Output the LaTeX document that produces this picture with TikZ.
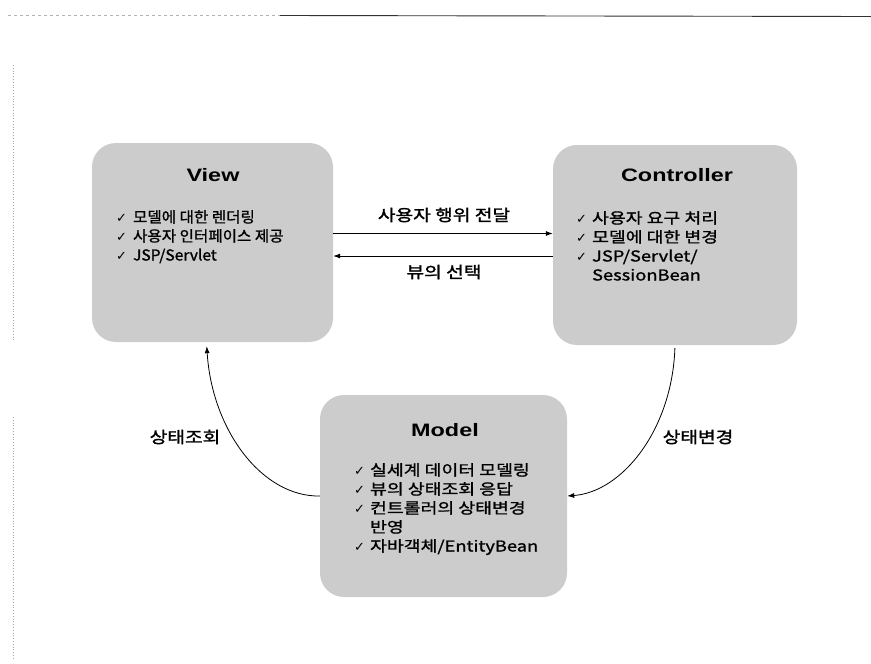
\documentclass[tikz,border=0pt]{standalone}
\usepackage{fontspec}
\setmainfont{Liberation Sans}
\newfontfamily\krv{Noto Sans CJK KR}[FakeBold=1.2, FakeStretch=1.04]
\newfontfamily\kr{Noto Sans CJK KR}[FakeBold=1.2, FakeStretch=1.22]
\newfontfamily\krb{Noto Sans CJK KR}[FakeBold=1.6, FakeStretch=1.2]
\newfontfamily\sym{DejaVu Sans}
\newfontfamily\ttlfont{Liberation Sans Bold}[FakeStretch=1.3]
\usetikzlibrary{arrows.meta}
\tikzset{
  panel/.style={fill=gray!40, rounded corners=24pt, inner sep=0pt},
  ttl/.style={font=\ttlfont\fontsize{18}{20}\selectfont},
  items/.style={font=\kr\fontsize{15}{19}\selectfont, anchor=north west, inner sep=0pt},
  vitems/.style={items, font=\krv\fontsize{15}{19}\selectfont},
  lbl/.style={font=\krb\fontsize{16}{19}\selectfont},
  conn/.style={-{Latex[length=7pt,width=5pt]}, line width=0.8pt},
}
\newcommand{\ck}{{\sym\fontsize{13}{19}\selectfont ✓}}
\begin{document}
\begin{tikzpicture}[x=1pt,y=-1pt]
\useasboundingbox (0,0) rectangle (871,664);
% frame lines
\draw[gray!60, dashed, line width=0.6pt] (8,15) -- (280,15);
\draw[black!80, line width=0.9pt] (280,15.5) -- (871,16.5);
\draw[gray!70, dotted, line width=0.8pt] (13,65) -- (13,342);
\draw[gray!70, dotted, line width=0.8pt] (13,417) -- (13,660);
% panels
\node[panel, minimum width=241pt, minimum height=199pt] (view) at (212.5,242.5) {};
\node[panel, minimum width=244pt, minimum height=200pt] (ctrl) at (675,245) {};
\node[panel, minimum width=247pt, minimum height=202pt] (model) at (443.5,496) {};
% titles
\node[ttl] (viewt) at (213,175) {View};
\node[ttl] (ctrlt) at (677,175) {Controller};
\node[ttl] (modelt) at (445,430) {Model};
% items
\node[vitems] (viewi) at (116,209) {\begin{tabular}{@{}l@{\hspace{6pt}}l@{}}
\ck & 모델에 대한 렌더링\\
\ck & 사용자 인터페이스 제공\\
\ck & JSP/Servlet
\end{tabular}};
\node[items] (ctrli) at (576,210) {\begin{tabular}{@{}l@{\hspace{5pt}}l@{}}
\ck & 사용자 요구 처리\\
\ck & 모델에 대한 변경\\
\ck & JSP/Servlet/\\
 & SessionBean
\end{tabular}};
\node[items] (modeli) at (354,462) {\begin{tabular}{@{}l@{\hspace{5pt}}l@{}}
\ck & 실세계 데이터 모델링\\
\ck & 뷰의 상태조회 응답\\
\ck & 컨트롤러의 상태변경\\
 & 반영\\
\ck & 자바객체/EntityBean
\end{tabular}};
% horizontal connectors
\draw[conn] ([yshift=9pt]view.east) -- ([yshift=9pt]view.east -| ctrl.west);
\draw[conn] ([yshift=-13.5pt]view.east -| ctrl.west) -- ([yshift=-13.5pt]view.east);
\node[lbl] (l1) at (444,215) {사용자 행위 전달};
\node[lbl] (l2) at (444,272) {뷰의 선택};
% curved connectors
\draw[conn, shorten >=4pt] (model.west) .. controls (262,497) and (212,430) .. ([xshift=-6pt]view.south);
\draw[conn, shorten <=3pt] (ctrl.south) .. controls (672,430) and (622,492) .. (model.east);
\node[lbl] (l3) at (185,437) {상태조회};
\node[lbl] (l4) at (698,437) {상태변경};
\end{tikzpicture}
\end{document}
